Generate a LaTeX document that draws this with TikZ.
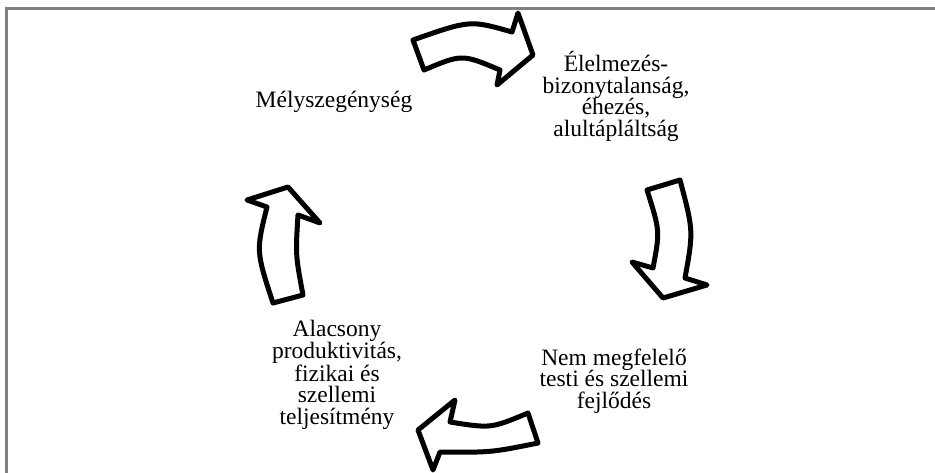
\documentclass[tikz,border=0pt]{standalone}
\usepackage{fontspec}
\setmainfont{Liberation Serif}
\begin{document}
\begin{tikzpicture}[x=1pt,y=-1pt,
  lbl/.style={align=center,inner sep=0pt,anchor=base,font=\fontsize{23.5}{21.5}\selectfont},
  blockarrow/.style={draw=black,fill=white,line width=5pt,line join=round},
  frameline/.style={draw={rgb,255:red,128;green,128;blue,128},line width=2.7pt}]
\useasboundingbox (0,0) rectangle (935,473);
\draw[frameline] (6.3,473) -- (6.3,8.7) -- (935,8.7);
% labels (anchor base = baseline of last line)
\node[lbl] (n1) at (334,108) {Mélyszegénység};
\node[lbl] (n2) at (616,136.5) {Élelmezés-\\bizonytalanság,\\éhezés,\\alultápláltság};
\node[lbl] (n3) at (614,408) {Nem megfelelő\\testi és szellemi\\fejlődés};
\node[lbl] (n4) at (337,424) {Alacsony\\produktivitás,\\fizikai és\\szellemi\\teljesítmény};
% arrows
\draw[blockarrow] (413,40) -- (424,70) .. controls (462,54) .. (500,70) -- (497,85) -- (533,55) -- (518,13) -- (512,32) .. controls (470,20) .. (413,40) -- cycle;
\draw[blockarrow] (647,190) -- (680,180) .. controls (693.5,231) .. (685,278) -- (707,285) -- (663,298) -- (632,262) -- (653,268) .. controls (660,231) .. (647,190) -- cycle;
\draw[blockarrow] (528,413) -- (538,443) .. controls (491,452.5) .. (440,452) -- (433,470) -- (418,430) -- (455,400) -- (450,422) .. controls (491,428.5) .. (528,413) -- cycle;
\draw[blockarrow] (273,303) -- (303,295) .. controls (295.5,255) .. (298,215) -- (320,223) -- (288,187) -- (247,200) -- (267,207) .. controls (256,251) .. (273,303) -- cycle;
\end{tikzpicture}
\end{document}
